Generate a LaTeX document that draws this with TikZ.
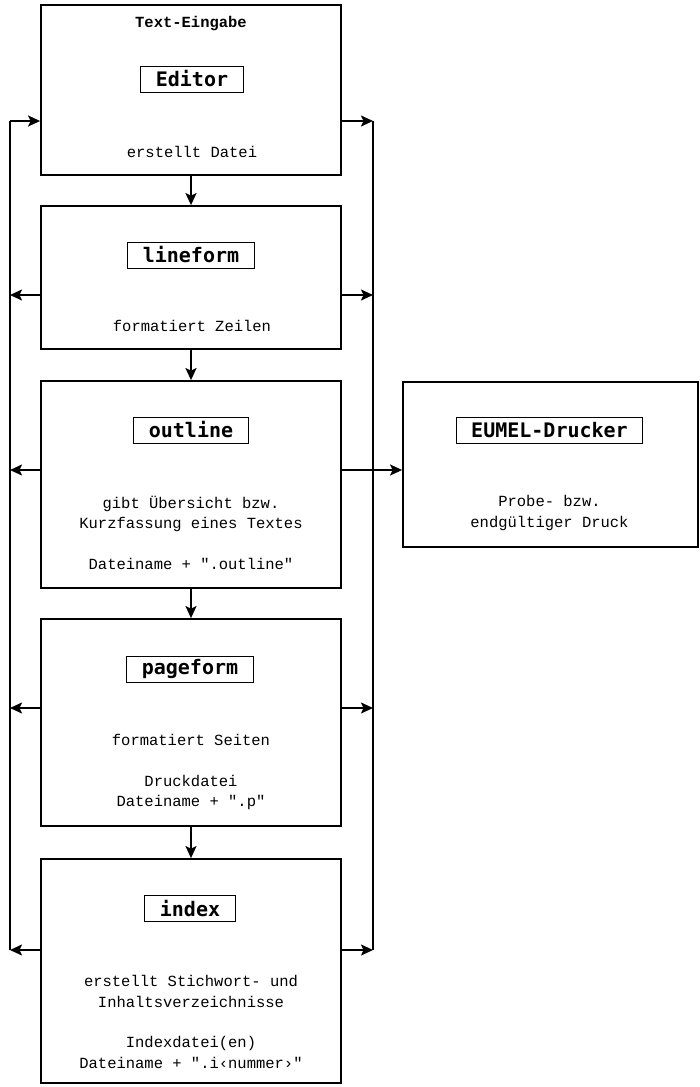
\documentclass[tikz,border=0pt]{standalone}
\usepackage{fontspec}
\setmonofont{Liberation Mono}
\newfontfamily\progfont{DejaVu Sans Mono}
\usetikzlibrary{arrows.meta}

\begin{document}
\begin{tikzpicture}[x=1pt, y=-1pt,
                    >={Stealth[length=12pt,width=11pt,inset=2.5pt]},
                    box/.style={draw, line width=1.8pt, minimum width=300pt, inner sep=0pt},
                    prog/.style={draw, line width=0.9pt, inner xsep=15pt, minimum height=26pt,
                                 font=\progfont\bfseries\fontsize{20}{20}\selectfont},
                    txt/.style={align=center, font=\ttfamily\fontsize{15.5}{20.3}\selectfont},
                    ra/.style={->, line width=1.8pt}]
\useasboundingbox (0,0) rectangle (700,1087);

% main column
\node [box, minimum height=170pt] (edit) at (191,90) {};
\node [box, minimum height=143pt] (line) at (191,277.5) {};
\node [box, minimum height=207pt] (outl) at (191,484.5) {};
\node [box, minimum height=207pt] (page) at (191,722.5) {};
\node [box, minimum height=224pt] (idx) at (191,971) {};
\node [box, minimum width=295pt, minimum height=165pt] (eumel) at (550.5,464.5) {};

\node [txt, font=\ttfamily\bfseries\fontsize{15.5}{20.3}\selectfont] (title) at (191,24) {Text-Eingabe};
\node [prog] (pedit) at (192,79) {Editor};
\node [txt] (tedit) at (192,152) {erstellt Datei};

\node [prog] (pline) at (191,255) {lineform};
\node [txt] (tline) at (192,326) {formatiert Zeilen};

\node [prog] (poutl) at (191,430) {outline};
\node [txt] (toutl) at (191,533) {gibt Übersicht bzw.\\Kurzfassung eines Textes\\[20.3pt]Dateiname + ".outline"};

\node [prog] (ppage) at (190,669) {pageform};
\node [txt] (tpage) at (191,772) {formatiert Seiten\\[20.3pt]Druckdatei\\Dateiname + ".p"};

\node [prog] (pidx) at (190,908) {index};
\node [txt] (tidx) at (191,1022) {erstellt Stichwort- und\\Inhaltsverzeichnisse\\[20.3pt]Indexdatei(en)\\Dateiname + ".i‹nummer›"};

\node [prog] (peumel) at (549.5,430) {EUMEL-Drucker};
\node [txt] (teumel) at (549.5,513) {Probe- bzw.\\endgültiger Druck};

% bus points
\coordinate (l1) at (10,121);  \coordinate (r1) at (373,121);
\coordinate (l2) at (10,295);  \coordinate (r2) at (373,295);
\coordinate (l3) at (10,470);  \coordinate (r3) at (373,470);
\coordinate (l4) at (10,708);  \coordinate (r4) at (373,708);
\coordinate (l5) at (10,950);  \coordinate (r5) at (373,950);

\draw [line width=1.8pt] (l1) -- (l5);
\draw [line width=1.8pt] (r1) -- (r5);

\draw [ra] (edit) -- (line);
\draw [ra] (line) -- (outl);
\draw [ra] (outl) -- (page);
\draw [ra] (page) -- (idx);

\draw [ra] (l1) -- (edit.west |- l1);
\draw [ra] (edit.east |- r1) -- (r1);
\draw [ra] (line.west |- l2) -- (l2);
\draw [ra] (line.east |- r2) -- (r2);
\draw [ra] (outl.west |- l3) -- (l3);
\draw [ra] (outl.east |- r3) -- (eumel.west |- r3);
\draw [ra] (page.west |- l4) -- (l4);
\draw [ra] (page.east |- r4) -- (r4);
\draw [ra] (idx.west |- l5) -- (l5);
\draw [ra] (idx.east |- r5) -- (r5);
\end{tikzpicture}
\end{document}
